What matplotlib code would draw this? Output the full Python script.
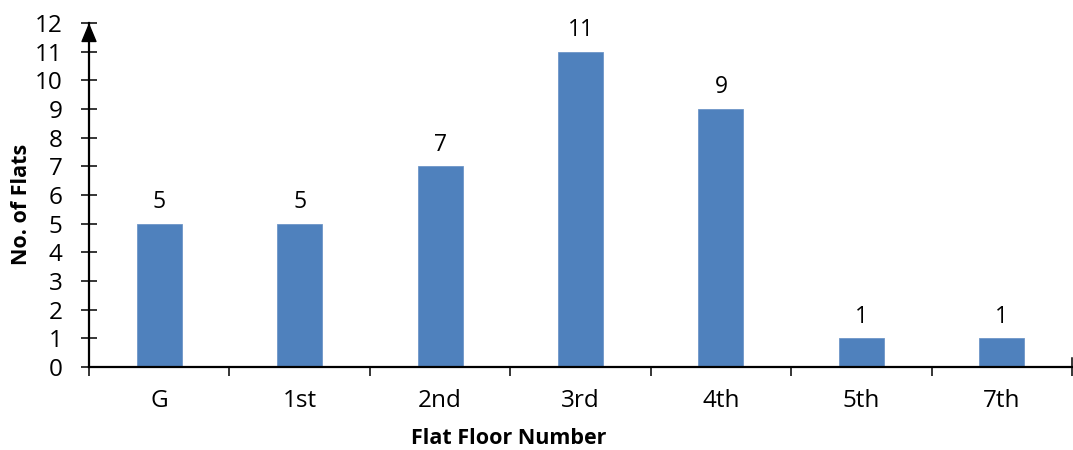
import matplotlib
matplotlib.use("Agg")
import matplotlib.pyplot as plt
import numpy as np

floors = ["G", "1st", "2nd", "3rd", "4th", "5th", "7th"]
flats = [5, 5, 7, 11, 9, 1, 1]
y_ticks = list(range(0, 13))

plt.rcParams["font.family"] = ["Open Sans", "DejaVu Sans"]

fig = plt.figure(figsize=(10.73, 4.5), dpi=100)
ax = fig.add_axes([89 / 1073, 83 / 450, 983 / 1073, 344 / 450])

x = np.arange(len(floors))
bars = ax.bar(x, flats, width=0.32, color="#4F81BD", edgecolor="#6f96c8",
              linewidth=0.6, zorder=2)
ax.bar_label(bars, labels=[str(v) for v in flats], padding=7, fontsize=16.5,
             color="#000000")

ax.set_xlim(-0.5, len(floors) - 0.5)
ax.set_ylim(0, 12)

for side in ("top", "right"):
    ax.spines[side].set_visible(False)
for side in ("left", "bottom"):
    ax.spines[side].set_linewidth(1.6)
    ax.spines[side].set_zorder(3)

# y axis: ticks crossing the axis
ax.set_yticks(y_ticks)
ax.tick_params(axis="y", direction="inout", length=12, width=1.1,
               labelsize=17.5, pad=13)

# x axis: labels at category centres with short inner ticks,
# boundary ticks pointing down
ax.set_xticks(x)
ax.set_xticklabels(floors)
ax.tick_params(axis="x", which="major", direction="in", length=4.5,
               width=1.1, labelsize=17.5, pad=16)
ax.set_xticks(np.arange(-0.5, len(floors)), minor=True)
ax.tick_params(axis="x", which="minor", direction="out", length=6.5,
               width=1.1)

# closing tick at the right end of the x axis
ax.plot([1, 1], [0, 6.5 / 72 * 100 / 344], transform=ax.transAxes,
        color="black", linewidth=1.1, clip_on=False, zorder=4)

# arrow head on the value axis
ax.annotate("", xy=(0, 1.0), xytext=(0, 0.9), xycoords="axes fraction",
            arrowprops=dict(arrowstyle="-|>,head_length=1.2,head_width=0.5",
                            color="black", lw=1.0, mutation_scale=10,
                            shrinkA=0, shrinkB=0), zorder=5)

fig.text(22 / 1073, 1 - 204 / 450, "No. of Flats", rotation=90,
         ha="center", va="center", fontsize=15.5, fontweight="bold")
fig.text(509 / 1073, 1 - 438 / 450, "Flat Floor Number",
         ha="center", va="center", fontsize=15.5, fontweight="bold")

fig.savefig("out.png", dpi=100)
